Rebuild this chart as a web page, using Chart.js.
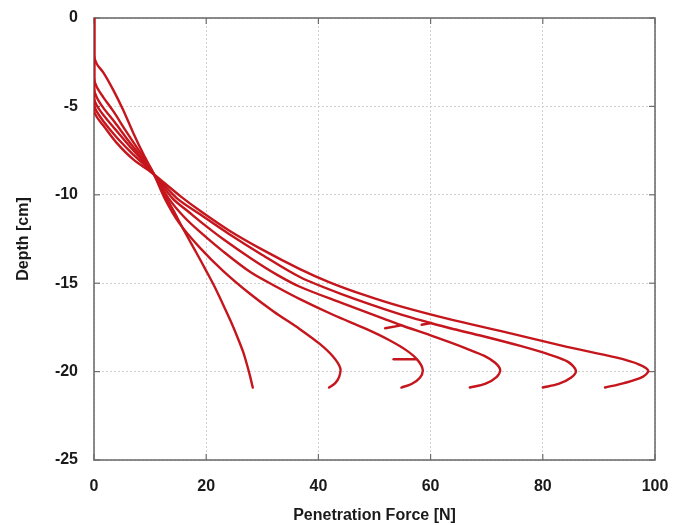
<!DOCTYPE html>
<html>
<head>
<meta charset="utf-8">
<script src="https://cdn.jsdelivr.net/npm/chart.js@4/dist/chart.umd.min.js"></script>
<style>
  html, body { margin: 0; padding: 0; background: #ffffff; }
  #wrap { width: 673px; height: 525px; position: relative; }
</style>
</head>
<body>
<div id="wrap"><canvas id="c" width="673" height="525"></canvas></div>
<script>
// ---- Data (force in N, depth in cm) ----
const xTicks = [0, 20, 40, 60, 80, 100];
const yTicks = [0, -5, -10, -15, -20, -25];

const force1 = [0, 0, 0.5, 1.7, 3.4, 5.2, 7.0, 8.8, 10.3, 12.0, 14.1, 16.1, 18.2, 20.0, 21.5, 23.0, 24.3, 25.5, 26.6, 27.35, 27.85, 28.3];
const depth1 = [0, -2.1, -2.6, -3.1, -4.05, -5.2, -6.5, -7.7, -8.6, -9.65, -10.85, -12.05, -13.25, -14.3, -15.2, -16.2, -17.1, -18.0, -18.9, -19.7, -20.3, -20.9];

const force2 = [0, 0, 0.5, 1.7, 3.5, 5.5, 7.8, 10.3, 12.6, 15.2, 18.9, 23.0, 27.8, 32.0, 36.7, 40.3, 42.6, 43.9, 43.7, 43.0, 41.9];
const depth2 = [0, -3.4, -3.9, -4.5, -5.3, -6.3, -7.4, -8.6, -10.2, -11.6, -13.0, -14.3, -15.6, -16.6, -17.6, -18.45, -19.15, -19.8, -20.3, -20.65, -20.9];

const force3 = [0, 0, 0.5, 1.7, 3.7, 5.8, 8.0, 10.3, 13.3, 16.2, 18.9, 23.0, 28.0, 32.5, 36.7, 42.7, 48.6, 52.5, 55.7, 57.7, 58.6, 58.1, 56.6, 54.8];
const depth3 = [0, -4.0, -4.5, -5.1, -5.9, -6.8, -7.7, -8.65, -10.2, -11.3, -12.1, -13.2, -14.4, -15.2, -15.9, -16.8, -17.6, -18.2, -18.8, -19.35, -19.9, -20.35, -20.7, -20.9];

const force4 = [0, 0, 0.5, 1.7, 3.8, 6.2, 8.3, 10.3, 14.0, 17.0, 18.9, 23.0, 28.0, 32.5, 36.7, 44.0, 51.6, 54.5, 60.0, 63.5, 66.4, 69.5, 71.5, 72.4, 71.8, 69.7, 67.0];
const depth4 = [0, -4.5, -4.95, -5.5, -6.3, -7.2, -7.95, -8.7, -10.2, -11.0, -11.5, -12.5, -13.6, -14.5, -15.2, -16.1, -17.0, -17.35, -17.95, -18.35, -18.7, -19.1, -19.5, -19.9, -20.3, -20.7, -20.9];

const force5 = [0, 0, 0.5, 1.7, 3.9, 6.6, 8.6, 10.3, 14.8, 18.9, 24.0, 30.0, 36.7, 44.0, 54.5, 60.0, 63.5, 69.4, 76.0, 81.3, 84.5, 85.9, 85.0, 82.8, 80.0];
const depth5 = [0, -4.9, -5.3, -5.85, -6.7, -7.6, -8.2, -8.7, -10.2, -11.1, -12.2, -13.4, -14.65, -15.6, -16.75, -17.25, -17.55, -18.0, -18.55, -19.05, -19.45, -19.95, -20.35, -20.7, -20.9];

const force6 = [0, 0, 0.5, 1.7, 4.0, 7.0, 10.3, 15.5, 18.9, 24.0, 30.0, 36.7, 42.0, 48.0, 54.5, 63.5, 72.4, 84.3, 93.0, 97.2, 98.8, 97.8, 94.5, 91.1];
const depth6 = [0, -5.2, -5.6, -6.1, -7.05, -8.0, -8.75, -10.1, -10.9, -12.0, -13.1, -14.2, -14.95, -15.65, -16.3, -17.05, -17.7, -18.6, -19.2, -19.6, -19.95, -20.3, -20.65, -20.9];

// short marks along curves
const markAForce = [51.9, 54.5];
const markADepth = [-17.55, -17.4];
const markBForce = [58.4, 60.1];
const markBDepth = [-17.35, -17.25];
const markCForce = [53.4, 57.4];
const markCDepth = [-19.3, -19.3];

function pts(xs, ys) { return xs.map((x, i) => ({ x: x, y: ys[i] })); }

const RED = '#c4161c';
function ds(xs, ys, tension) {
  return {
    data: pts(xs, ys),
    showLine: true,
    borderColor: RED,
    borderWidth: 2.4,
    pointRadius: 0,
    tension: tension,
    fill: false,
    borderCapStyle: 'round',
    borderJoinStyle: 'round'
  };
}

const boxPlugin = {
  id: 'box',
  beforeDatasetsDraw(chart) {
    const a = chart.chartArea, ctx = chart.ctx;
    ctx.save();
    ctx.strokeStyle = '#6e6e6e';
    ctx.lineWidth = 1.6;
    ctx.strokeRect(a.left, a.top, a.right - a.left, a.bottom - a.top);
    ctx.lineWidth = 1.2;
    const xs = chart.scales.x, ys = chart.scales.y;
    xTicks.forEach(v => {
      const p = xs.getPixelForValue(v);
      ctx.beginPath(); ctx.moveTo(p, a.bottom); ctx.lineTo(p, a.bottom - 6); ctx.stroke();
      ctx.beginPath(); ctx.moveTo(p, a.top); ctx.lineTo(p, a.top + 6); ctx.stroke();
    });
    yTicks.forEach(v => {
      const p = ys.getPixelForValue(v);
      ctx.beginPath(); ctx.moveTo(a.left, p); ctx.lineTo(a.left + 6, p); ctx.stroke();
      ctx.beginPath(); ctx.moveTo(a.right, p); ctx.lineTo(a.right - 6, p); ctx.stroke();
    });
    ctx.restore();
  }
};

const tickFont = { family: 'Liberation Sans, Arial, sans-serif', size: 16, weight: 'bold' };

new Chart(document.getElementById('c'), {
  type: 'scatter',
  data: {
    datasets: [
      ds(force1, depth1, 0.3),
      ds(force2, depth2, 0.3),
      ds(force3, depth3, 0.3),
      ds(force4, depth4, 0.3),
      ds(force5, depth5, 0.3),
      ds(force6, depth6, 0.3),
      ds(markAForce, markADepth, 0),
      ds(markBForce, markBDepth, 0),
      ds(markCForce, markCDepth, 0)
    ]
  },
  options: {
    responsive: false,
    animation: false,
    devicePixelRatio: 1,
    layout: { padding: { left: 14, right: 18, top: 18, bottom: 0 } },
    plugins: { legend: { display: false }, tooltip: { enabled: false } },
    scales: {
      x: {
        type: 'linear',
        min: 0, max: 100,
        afterBuildTicks(s) { s.ticks = xTicks.map(v => ({ value: v })); },
        afterFit(s) { s.height = 65; s.paddingLeft = 0; s.paddingRight = 0; },
        grid: { color: '#cfcfcf', lineWidth: 1, drawTicks: false },
        border: { display: false, dash: [2, 2] },
        ticks: { color: '#1a1a1a', font: tickFont, padding: 17, maxRotation: 0 },
        title: { display: true, text: 'Penetration Force [N]', color: '#1a1a1a', font: tickFont, padding: { top: 4, bottom: 0 } }
      },
      y: {
        type: 'linear',
        min: -25, max: 0,
        afterBuildTicks(s) { s.ticks = yTicks.map(v => ({ value: v })); },
        afterFit(s) { s.width = 80; s.paddingTop = 0; s.paddingBottom = 0; },
        grid: { color: '#cfcfcf', lineWidth: 1, drawTicks: false },
        border: { display: false, dash: [2, 2] },
        ticks: { color: '#1a1a1a', font: tickFont, padding: 16 },
        title: { display: true, text: 'Depth [cm]', color: '#1a1a1a', font: tickFont, padding: { top: 0, bottom: 4 } }
      }
    }
  },
  plugins: [boxPlugin]
});
</script>
</body>
</html>
